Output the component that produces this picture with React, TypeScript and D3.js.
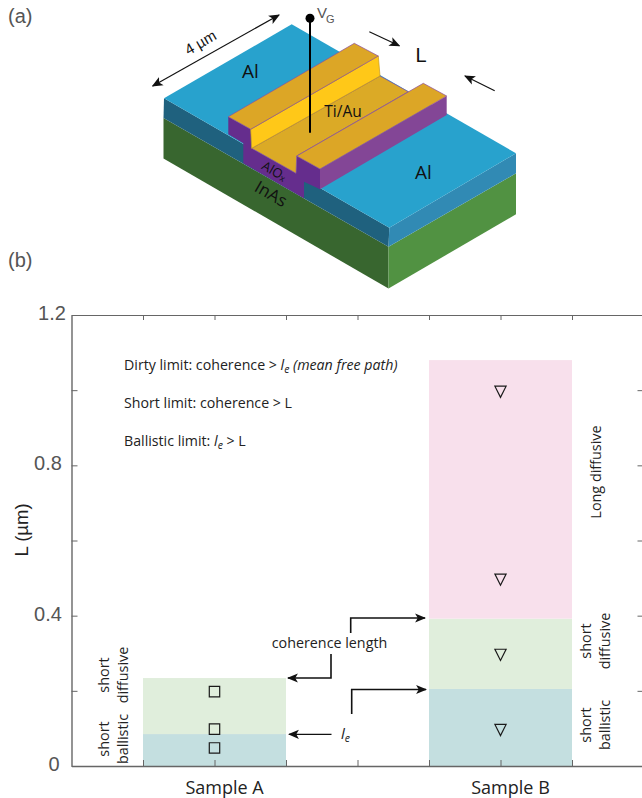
import { FC, useEffect, useRef } from 'react';
import * as d3 from 'd3';

// chart values
const yTicks = [0, 0.2, 0.4, 0.6, 0.8, 1.0, 1.2];
const yLabels = [0, 0.4, 0.8, 1.2];
const xTicks = [1, 2, 3, 4, 5, 6, 7, 8];
const samples = ['Sample A', 'Sample B'];
const samplePos = [2, 6];
const regimes = [
  { pos: 2, from: 0, to: 0.085, color: '#c4dfe0' },
  { pos: 2, from: 0.085, to: 0.234, color: '#e0eedc' },
  { pos: 6, from: 0, to: 0.205, color: '#c4dfe0' },
  { pos: 6, from: 0.205, to: 0.392, color: '#e0eedc' },
  { pos: 6, from: 0.392, to: 1.08, color: '#f8e0ec' },
];
const sampleAL = [0.048, 0.098, 0.198];
const sampleBL = [0.1, 0.3, 0.5, 1.0];

// device drawing (panel a), page pixels
type Face = { fill: string; stroke?: string; pts: [number, number][] };
const deviceFaces: Face[] = [
  { fill: '#38662f', pts: [[163.5, 118], [163.5, 158.5], [388.5, 288.5], [388.5, 246.7]] },
  { fill: '#519242', pts: [[388.5, 246.7], [388.5, 288.5], [516, 214.3], [516, 173.3]] },
  { fill: '#1f617e', pts: [[164, 98.3], [163.5, 118], [388.5, 246.7], [389.3, 227.7]] },
  { fill: '#318ab4', pts: [[389.3, 227.7], [388.5, 246.7], [516, 173.3], [516, 153.3]] },
  { fill: '#28a2cd', pts: [[291.7, 24.3], [164, 98.3], [389.3, 227.7], [516, 153.3]] },
  {
    fill: '#652d8d',
    pts: [[228.3, 116.7], [228.3, 134.3], [243.3, 143.3], [243.3, 163.3], [304, 198.3], [304, 181.7], [320, 189.3], [320, 169], [296.7, 156], [296, 173.3], [251.7, 148.3], [250.7, 129.3]],
  },
  { fill: '#834696', pts: [[320, 169], [320, 189.3], [446.7, 115], [446.7, 96]] },
  { fill: '#dbaa26', stroke: '#8c4fa0', pts: [[251.7, 148.3], [296, 173.3], [296.7, 156], [408.3, 91.7], [380, 76]] },
  { fill: '#ffc818', stroke: '#c79a1e', pts: [[250.7, 129.3], [251.7, 148.3], [380, 76], [378.3, 56]] },
  { fill: '#dca626', stroke: '#8c4fa0', pts: [[228.3, 116.7], [250.7, 129.3], [378.3, 56], [354.3, 43.3]] },
  { fill: '#dca626', stroke: '#8c4fa0', pts: [[296.7, 156], [320, 169], [446.7, 96], [423.3, 83.3]] },
];

const bodyFont = '"Open Sans", sans-serif';
const axisFont = '"Liberation Sans", sans-serif';

const App: FC = () => {
  const svgRef = useRef<SVGSVGElement>(null);

  useEffect(() => {
    if (!svgRef.current) return;
    const svg = d3.select(svgRef.current);
    svg.selectAll('*').remove();

    const x = d3.scaleLinear().domain([0, 8]).range([71.5, 643.5]);
    const y = d3.scaleLinear().domain([0, 1.2]).range([766, 315]);
    const unit = x(1) - x(0);

    const defs = svg.append('defs');
    defs
      .append('marker')
      .attr('id', 'head')
      .attr('viewBox', '0 0 10 10')
      .attr('refX', 9)
      .attr('refY', 5)
      .attr('markerUnits', 'userSpaceOnUse')
      .attr('markerWidth', 11)
      .attr('markerHeight', 11)
      .attr('orient', 'auto-start-reverse')
      .append('path')
      .attr('d', 'M0,0.8L10,5L0,9.2L2.4,5Z')
      .attr('fill', '#111');

    // panel a
    const device = svg.append('g');
    const facePath = d3.line().curve(d3.curveLinearClosed);
    device
      .selectAll('path')
      .data(deviceFaces)
      .join('path')
      .attr('d', (d) => facePath(d.pts))
      .attr('fill', (d) => d.fill)
      .attr('stroke', (d) => d.stroke ?? 'none')
      .attr('stroke-width', 0.7);

    const arrow = (pts: [number, number][], both = false, width = 1.2) =>
      svg
        .append('path')
        .attr('d', d3.line()(pts))
        .attr('fill', 'none')
        .attr('stroke', '#111')
        .attr('stroke-width', width)
        .attr('marker-end', 'url(#head)')
        .attr('marker-start', both ? 'url(#head)' : null);

    arrow([[152.7, 86], [279, 15]], true);
    arrow([[369.3, 31.7], [399.3, 45.7]]);
    arrow([[494.7, 90.7], [465, 76]]);

    svg
      .append('line')
      .attr('x1', 310)
      .attr('y1', 18.3)
      .attr('x2', 310)
      .attr('y2', 132.7)
      .attr('stroke', '#000')
      .attr('stroke-width', 2);
    svg.append('circle').attr('cx', 310).attr('cy', 18.3).attr('r', 4.5).attr('fill', '#000');

    const label = (
      txt: string,
      px: number,
      py: number,
      size: number,
      opts: { font?: string; fill?: string; rotate?: number; anchor?: string; style?: string } = {}
    ) =>
      svg
        .append('text')
        .attr('transform', `translate(${px},${py}) rotate(${opts.rotate ?? 0})`)
        .attr('text-anchor', opts.anchor ?? 'middle')
        .attr('font-family', opts.font ?? bodyFont)
        .attr('font-size', size)
        .attr('font-style', opts.style ?? 'normal')
        .attr('fill', opts.fill ?? '#111')
        .text(txt);

    label('(a)', 8, 23, 20, { font: axisFont, fill: '#555', anchor: 'start' });
    label('(b)', 8, 267, 20, { font: axisFont, fill: '#555', anchor: 'start' });
    label('4 µm', 203, 47, 15, { rotate: -30, font: axisFont });
    label('L', 421, 62, 20, { font: axisFont });
    label('Al', 250.5, 78, 19);
    label('Al', 423.5, 179, 19);
    label('Ti/Au', 343, 117, 15.5);
    label('AlOₓ', 272, 175, 13, { rotate: 30 });
    label('InAs', 268, 199, 17, { rotate: 30 });
    const vg = label('V', 317, 18, 15, { font: axisFont, fill: '#555', anchor: 'start' });
    vg.append('tspan').attr('dx', -1).attr('dy', 5).attr('font-size', 11).text('G');

    // panel b: regime bands
    svg
      .append('g')
      .selectAll('rect')
      .data(regimes)
      .join('rect')
      .attr('x', (d) => x(d.pos - 1))
      .attr('width', unit * 2)
      .attr('y', (d) => y(d.to))
      .attr('height', (d) => y(d.from) - y(d.to))
      .attr('fill', (d) => d.color);

    // axes
    const axisColor = '#666';
    const left = d3.axisLeft(y).tickValues(yTicks).tickSizeInner(-6).tickSizeOuter(0).tickFormat(() => '');
    const right = d3.axisRight(y).tickValues(yTicks).tickSizeInner(-6).tickSizeOuter(0).tickFormat(() => '');
    const top = d3.axisTop(x).tickValues(xTicks).tickSizeInner(-5).tickSizeOuter(0).tickFormat(() => '');
    const bottom = d3.axisBottom(x).tickValues(xTicks).tickSizeInner(-6).tickSizeOuter(0).tickFormat(() => '');
    const addAxis = (ax: d3.Axis<d3.NumberValue>, dx: number, dy: number, w: number) => {
      const g = svg.append('g').attr('transform', `translate(${dx},${dy})`).call(ax as any);
      g.selectAll('path,line').attr('stroke', axisColor);
      g.select('path').attr('stroke-width', w);
    };
    addAxis(left, x(0), 0, 1.4);
    addAxis(right, x(8), 0, 1.4);
    addAxis(top, 0, y(1.2), 1);
    addAxis(bottom, 0, y(0), 1.5);

    // the tick labels do not share a right edge in the original
    yLabels.forEach((v) => {
      const cx = v === 0 ? 54 : v === 1.2 ? 52 : 48;
      label(v === 0 ? '0' : d3.format('.1f')(v), cx, y(v) + 5, 20, { font: axisFont, fill: '#555' });
    });
    label('L (µm)', 28, 530, 18.5, { rotate: -90, font: axisFont, fill: '#222' });
    samples.forEach((s, i) => label(s, x(samplePos[i]) + 10, 794, 18, { fill: '#222' }));

    // markers
    svg
      .append('g')
      .selectAll('path')
      .data(sampleAL)
      .join('path')
      .attr('transform', (d) => `translate(${x(samplePos[0])},${y(d)})`)
      .attr('d', 'M-5.2,-5.2H5.2V5.2H-5.2Z')
      .attr('fill', 'none')
      .attr('stroke', '#1a1a1a')
      .attr('stroke-width', 1.2);
    svg
      .append('g')
      .selectAll('path')
      .data(sampleBL)
      .join('path')
      .attr('transform', (d) => `translate(${x(samplePos[1])},${y(d)})`)
      .attr('d', 'M-5.6,-4H5.6L0,7.2Z')
      .attr('fill', 'none')
      .attr('stroke', '#1a1a1a')
      .attr('stroke-width', 1.2);

    // definitions
    const note = (py: number, parts: [string, boolean, boolean?][]) => {
      const t = svg
        .append('text')
        .attr('x', 124)
        .attr('y', py)
        .attr('font-family', bodyFont)
        .attr('font-size', 14.2)
        .attr('fill', '#222');
      let wasSub = false;
      parts.forEach(([s, it, sub]) => {
        const span = t.append('tspan').attr('font-style', it ? 'italic' : 'normal').text(s);
        if (sub) span.attr('dy', 3).attr('font-size', 10.5);
        else if (wasSub) span.attr('dy', -3);
        wasSub = !!sub;
      });
    };
    note(370, [['Dirty limit: coherence > ', false], ['l', true], ['e', true, true], [' (mean free path)', true]]);
    note(408, [['Short limit: coherence > L', false]]);
    note(446, [['Ballistic limit: ', false], ['l', true], ['e', true, true], [' > L', false]]);

    // regime names
    const side = (lines: string[], px: number, py: number) =>
      lines.forEach((s, i) => label(s, px + i * 19, py, 14.4, { rotate: -90, fill: '#222' }));
    side(['short', 'ballistic'], 109, 739);
    side(['short', 'diffusive'], 109, 675);
    side(['short', 'diffusive'], 591, 641);
    side(['short', 'ballistic'], 591, 725);
    label('Long diffusive', 601, 472, 14.4, { rotate: -90, fill: '#222' });

    // annotations
    label('coherence length', 329.5, 648, 14.3, { fill: '#222' });
    const le = label('l', 341, 739, 15, { style: 'italic', fill: '#222', anchor: 'start' });
    le.append('tspan').attr('dy', 3).attr('font-size', 10.5).text('e');
    arrow([[331, 654], [331, 678], [288, 678]], false, 1.6);
    arrow([[350.7, 633], [350.7, 618], [425, 618]], false, 1.6);
    arrow([[351.7, 714], [351.7, 689.5], [426, 689.5]], false, 1.6);
    arrow([[331.5, 734.3], [289, 734.3]], false, 1.2);
  }, []);

  return (
    <svg
      ref={svgRef}
      width={642}
      height={798}
      style={{ position: 'absolute', left: 0, top: 0, background: '#fff' }}
    />
  );
};

export default App;
